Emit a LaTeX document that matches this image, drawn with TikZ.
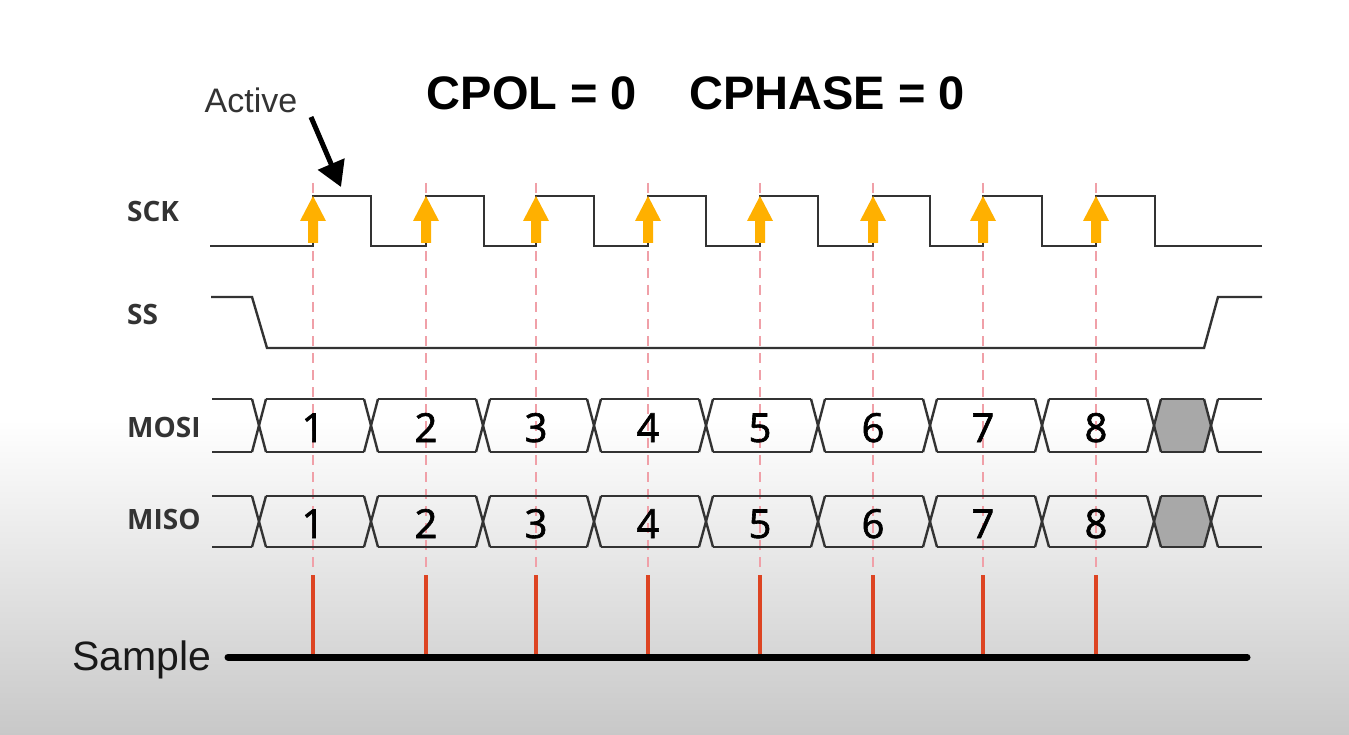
\documentclass[tikz,border=0pt]{standalone}
\usepackage{fontspec}
\setmainfont{Liberation Sans}
\newfontfamily\labfont{Open Sans}
\newfontfamily\digfont[FakeBold=1.6]{Open Sans}
\usetikzlibrary{arrows.meta}
\definecolor{wire}{HTML}{333333}
\definecolor{clkarrow}{HTML}{FFB000}
\definecolor{guide}{HTML}{F0A0A8}
\definecolor{samp}{HTML}{DD4422}
\definecolor{cellgray}{HTML}{A8A8A8}
\definecolor{bggray}{HTML}{C8C8C8}
\tikzset{
  wireline/.style={draw=wire, line width=2.4pt, line join=miter},
  guideline/.style={draw=guide, line width=1.5pt, dash pattern=on 10pt off 7pt},
  sampleline/.style={draw=samp, line width=3.5pt},
  siglabel/.style={inner sep=0pt, anchor=base west, text=wire, font=\labfont\bfseries\fontsize{28}{30}\selectfont},
  bitlabel/.style={inner sep=0pt, anchor=base, text=black, font=\digfont\fontsize{40}{42}\selectfont},
}
\begin{document}
\begin{tikzpicture}[x=1pt,y=-1pt]
\useasboundingbox (0,0) rectangle (1349,735);
\fill[white] (0,0) rectangle (1349,735);
\shade[top color=white, bottom color=bggray] (0,420) rectangle (1349,735);

% title
\node[inner sep=0pt, font=\bfseries\fontsize{47}{50}\selectfont] (cpol) at (532,93) {CPOL = 0};
\node[inner sep=0pt, font=\bfseries\fontsize{47}{50}\selectfont] (cpha) at (827,93) {CPHASE = 0};
\node[inner sep=0pt, text=wire, font=\fontsize{34}{36}\selectfont] (active) at (251,100) {Active};
\coordinate (actS) at (311,117);
\coordinate (actE) at (341,187);
\draw[line width=5pt, -{Triangle[length=25pt,width=28pt]}] (actS) -- (actE);

% signal labels
\node[siglabel] (lsck) at (127,222) {SCK};
\node[siglabel] (lss) at (127,324) {SS};
\node[siglabel] (lmosi) at (127,437) {MOSI};
\node[siglabel] (lmiso) at (127,529) {MISO};
\node[inner sep=0pt, anchor=base west, text=black!90, font=\fontsize{41}{43}\selectfont] (lsample) at (72,670) {Sample};

% guide lines
\foreach \x in {313,426,536,648,760,873,983,1096}{
  \draw[guideline] (\x,183) -- (\x,572);
  \draw[sampleline] (\x,575) -- (\x,657);
}

% sample line
\draw[line width=7pt, line cap=round, black] (228,657) -- (1247,657);

% SCK waveform
\draw[wireline] (210,246)
  -- (313,246) -- (313,196) -- (371,196) -- (371,246)
  -- (426,246) -- (426,196) -- (484,196) -- (484,246)
  -- (536,246) -- (536,196) -- (594,196) -- (594,246)
  -- (648,246) -- (648,196) -- (706,196) -- (706,246)
  -- (760,246) -- (760,196) -- (818,196) -- (818,246)
  -- (873,246) -- (873,196) -- (930,196) -- (930,246)
  -- (983,246) -- (983,196) -- (1042,196) -- (1042,246)
  -- (1096,246) -- (1096,196) -- (1155,196) -- (1155,246)
  -- (1262,246);

% clock arrows
\foreach \x in {313,426,536,648,760,873,983,1096}{
  \fill[clkarrow] (\x,196) -- (\x+13,221) -- (\x+5,221) -- (\x+5,243)
     -- (\x-5,243) -- (\x-5,221) -- (\x-13,221) -- cycle;
}

% SS waveform
\draw[wireline] (211,297) -- (252,297) -- (267,348) -- (1204,348) -- (1218,297) -- (1262,297);

% buses
\foreach \t/\b in {399/452, 496/547}{
  \pgfmathsetmacro{\m}{(\t+\b)/2}
  \fill[cellgray] (1154,\m) -- (1161,\t) -- (1204,\t) -- (1211,\m) -- (1204,\b) -- (1161,\b) -- cycle;
  \draw[wireline] (212,\t) -- (252,\t);
  \draw[wireline] (212,\b) -- (252,\b);
  \foreach \a/\c in {259/371, 371/483, 483/594, 594/706, 706/818, 818/930, 930/1042, 1042/1154, 1154/1211}{
    \draw[wireline] (\a+7,\t) -- (\c-7,\t);
    \draw[wireline] (\a+7,\b) -- (\c-7,\b);
  }
  \foreach \a in {259,371,483,594,706,818,930,1042,1154,1211}{
    \draw[wireline] (\a-7,\t) -- (\a+7,\b);
    \draw[wireline] (\a-7,\b) -- (\a+7,\t);
  }
  \draw[wireline] (1218,\t) -- (1262,\t);
  \draw[wireline] (1218,\b) -- (1262,\b);
}

% bit numbers
\foreach \x/\n in {313/1,426/2,536/3,648/4,760/5,873/6,983/7,1096/8}{
  \node[bitlabel] (mo\n) at (\x,442) {\n};
  \node[bitlabel] (mi\n) at (\x,538) {\n};
}
\end{tikzpicture}
\end{document}
